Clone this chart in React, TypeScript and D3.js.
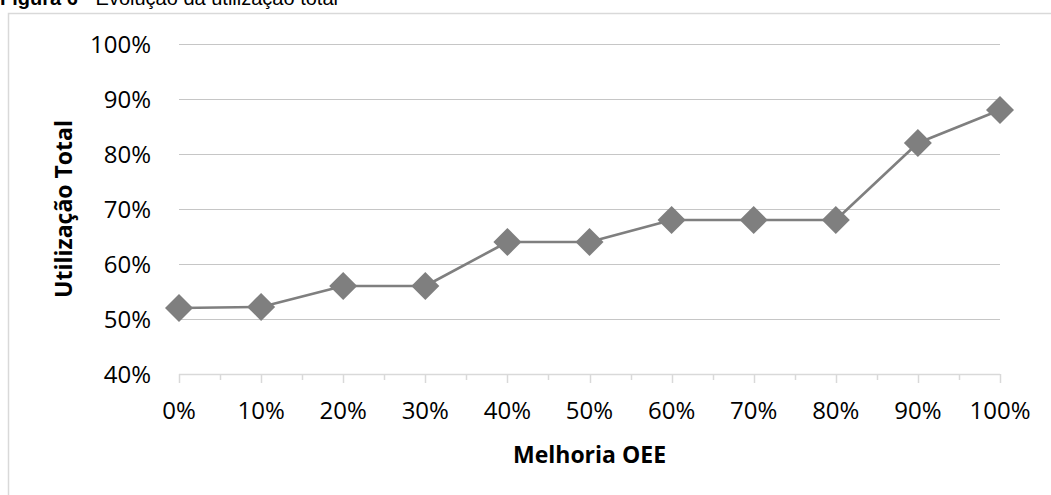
import React from "react";
import * as d3 from "d3";

// Improvement steps (x) and resulting total utilization (y), both as fractions
const melhoria = [0, 0.1, 0.2, 0.3, 0.4, 0.5, 0.6, 0.7, 0.8, 0.9, 1.0];
const utilizacao = [0.52, 0.522, 0.56, 0.56, 0.64, 0.64, 0.68, 0.68, 0.68, 0.82, 0.88];
const yTicks = [0.4, 0.5, 0.6, 0.7, 0.8, 0.9, 1.0];
const xTicks = [0, 0.1, 0.2, 0.3, 0.4, 0.5, 0.6, 0.7, 0.8, 0.9, 1.0];
const xMinorTicks = [0.05, 0.15, 0.25, 0.35, 0.45, 0.55, 0.65, 0.75, 0.85, 0.95];

const W = 1051;
const H = 495;
const plot = { left: 179, right: 1000, top: 44, bottom: 374 };
const font = "'Open Sans', 'Noto Sans', sans-serif";
const grey = "#7f7f7f";

export default function App() {
  const x = d3.scaleLinear().domain([0, 1]).range([plot.left, plot.right]);
  const y = d3.scaleLinear().domain([0.4, 1.0]).range([plot.bottom, plot.top]);
  const pct = d3.format(".0%");

  const pts = melhoria.map((m, i) => [m, utilizacao[i]] as [number, number]);
  const line = d3
    .line<[number, number]>()
    .x((d) => x(d[0]))
    .y((d) => y(d[1]));
  const diamond = d3.symbol().type(d3.symbolDiamond2).size(500)();

  return (
    <svg
      width={W}
      height={H}
      style={{ position: "absolute", left: 0, top: 0, background: "#fff" }}
    >
      {/* caption */}
      <text x={0} y={5} fontFamily="'Liberation Sans', Arial, sans-serif" fontSize={20} fill="#000">
        <tspan fontWeight="bold">Figura 6</tspan>
        <tspan> - Evolução da utilização total</tspan>
      </text>

      {/* chart frame */}
      <rect x={8.5} y={13.5} width={1060} height={520} fill="none" stroke="#d9d9d9" strokeWidth={1.5} />

      {/* horizontal gridlines */}
      {yTicks.slice(1).map((t) => (
        <line
          key={"g" + t}
          x1={plot.left}
          x2={plot.right}
          y1={Math.round(y(t)) + 0.5}
          y2={Math.round(y(t)) + 0.5}
          stroke="#c6c6c6"
          strokeWidth={1}
        />
      ))}

      {/* x axis line and ticks */}
      <line
        x1={plot.left}
        x2={plot.right}
        y1={plot.bottom + 0.5}
        y2={plot.bottom + 0.5}
        stroke="#d9d9d9"
        strokeWidth={1.5}
      />
      {xTicks.map((t) => (
        <line
          key={"t" + t}
          x1={Math.round(x(t)) + 0.5}
          x2={Math.round(x(t)) + 0.5}
          y1={plot.bottom}
          y2={plot.bottom + 9}
          stroke="#d9d9d9"
          strokeWidth={1.5}
        />
      ))}
      {xMinorTicks.map((t) => (
        <line
          key={"m" + t}
          x1={Math.round(x(t)) + 0.5}
          x2={Math.round(x(t)) + 0.5}
          y1={plot.bottom}
          y2={plot.bottom + 6}
          stroke="#d9d9d9"
          strokeWidth={1.5}
        />
      ))}

      {/* y tick labels */}
      {yTicks.map((t) => (
        <text
          key={"y" + t}
          x={151}
          y={y(t)}
          dy="0.36em"
          textAnchor="end"
          fontFamily={font}
          fontSize={24}
          fill="#000"
        >
          {pct(t)}
        </text>
      ))}

      {/* x tick labels */}
      {xTicks.map((t) => (
        <text
          key={"x" + t}
          x={x(t)}
          y={419}
          textAnchor="middle"
          fontFamily={font}
          fontSize={24}
          fill="#000"
        >
          {pct(t)}
        </text>
      ))}

      {/* axis titles */}
      <text
        x={(plot.left + plot.right) / 2}
        y={463}
        textAnchor="middle"
        fontFamily={font}
        fontWeight="bold"
        fontSize={23}
        fill="#000"
      >
        Melhoria OEE
      </text>
      <text
        transform={`translate(72, ${(plot.top + plot.bottom) / 2}) rotate(-90)`}
        textAnchor="middle"
        fontFamily={font}
        fontWeight="bold"
        fontSize={23}
        fill="#000"
      >
        Utilização Total
      </text>

      {/* series */}
      <path d={line(pts) ?? ""} fill="none" stroke={grey} strokeWidth={2.6} strokeLinejoin="round" />
      {pts.map((p, i) => (
        <path key={"d" + i} d={diamond ?? ""} transform={`translate(${x(p[0])}, ${y(p[1])})`} fill={grey} />
      ))}
    </svg>
  );
}
